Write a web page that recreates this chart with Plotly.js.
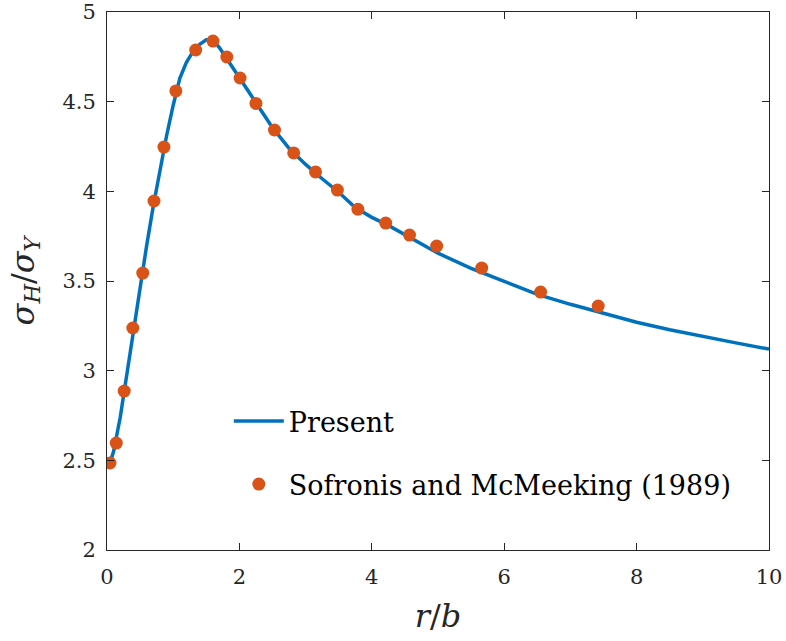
<!DOCTYPE html>
<html>
<head>
<meta charset="utf-8">
<script src="https://cdn.plot.ly/plotly-3.0.1.min.js"></script>
<style>html,body{margin:0;padding:0;background:#fff;}#chart{width:786px;height:641px;}</style>
</head>
<body>
<div id="chart"></div>
<script>
// Present (line) values
var presentR = [0.05, 0.1, 0.2, 0.3, 0.4, 0.5, 0.6, 0.7, 0.8, 0.9, 1.0, 1.1, 1.2, 1.3, 1.4, 1.5, 1.6, 1.7, 1.8, 1.9, 2.0, 2.25, 2.5, 2.75, 3.0, 3.25, 3.5, 3.75, 4.0, 4.25, 4.5, 4.75, 5.0, 5.5, 6.0, 6.5, 7.0, 7.5, 8.0, 8.5, 9.0, 9.5, 10.0];
var presentS = [2.49, 2.55, 2.74, 2.98, 3.25, 3.48, 3.70, 3.92, 4.12, 4.31, 4.48, 4.63, 4.72, 4.78, 4.82, 4.845, 4.845, 4.80, 4.745, 4.69, 4.63, 4.49, 4.355, 4.24, 4.15, 4.07, 3.995, 3.91, 3.855, 3.81, 3.76, 3.705, 3.655, 3.57, 3.495, 3.425, 3.37, 3.32, 3.27, 3.228, 3.19, 3.155, 3.12];

// Sofronis and McMeeking (1989) points
var refR = [0.045, 0.14, 0.26, 0.39, 0.54, 0.71, 0.86, 1.04, 1.34, 1.60, 1.81, 2.01, 2.25, 2.53, 2.82, 3.15, 3.48, 3.79, 4.21, 4.57, 4.98, 5.66, 6.55, 7.42];
var refS = [2.485, 2.596, 2.886, 3.238, 3.544, 3.946, 4.247, 4.56, 4.788, 4.838, 4.749, 4.632, 4.49, 4.342, 4.214, 4.108, 4.007, 3.90, 3.823, 3.756, 3.695, 3.572, 3.438, 3.36];

var xTicks = [0, 2, 4, 6, 8, 10];
var yTicks = [2, 2.5, 3, 3.5, 4, 4.5, 5];

var serif = 'DejaVu Serif';

var traces = [
  {x: presentR, y: presentS, mode: 'lines', name: 'Present', legendgroup: 'a',
   line: {color: '#0072BD', width: 3.5}},
  {x: refR, y: refS, mode: 'markers', name: 'Sofronis and McMeeking (1989)', legendgroup: 'b',
   marker: {color: '#D95319', size: 13}}
];

var axisCommon = {
  showline: true, linecolor: '#262626', linewidth: 1, mirror: 'ticks',
  ticks: 'inside', ticklen: 7, tickcolor: '#262626', tickwidth: 1,
  showgrid: false, zeroline: false, ticklabeloverflow: 'allow',
  tickfont: {family: serif, size: 21, color: '#262626'}
};

var layout = {
  width: 786, height: 641,
  margin: {l: 107, r: 17, t: 12, b: 91, autoexpand: false},
  paper_bgcolor: '#fff', plot_bgcolor: '#fff',
  xaxis: Object.assign({}, axisCommon, {
    range: [0, 10], tickvals: xTicks, ticktext: xTicks.map(String),
    ticklabelstandoff: 8,
    title: {text: '<i>r</i>/<i>b</i>', font: {family: serif, size: 32, color: '#262626'}, standoff: 16}
  }),
  yaxis: Object.assign({}, axisCommon, {
    range: [2, 5], tickvals: yTicks, ticktext: yTicks.map(String),
    ticklabelstandoff: 6,
    title: {text: '<i>σ</i><sub><i>H</i></sub>/<i>σ</i><sub><i>Y</i></sub>', font: {family: serif, size: 32, color: '#262626'}, standoff: 18}
  }),
  showlegend: true,
  legend: {
    x: 0.184, xanchor: 'left', y: 0.2845, yanchor: 'top',
    bgcolor: 'rgba(0,0,0,0)', borderwidth: 0,
    font: {family: serif, size: 27, color: '#000'},
    traceorder: 'grouped', tracegroupgap: 25, itemwidth: 50
  }
};

Plotly.newPlot('chart', traces, layout, {displayModeBar: false, staticPlot: true});
</script>
</body>
</html>
